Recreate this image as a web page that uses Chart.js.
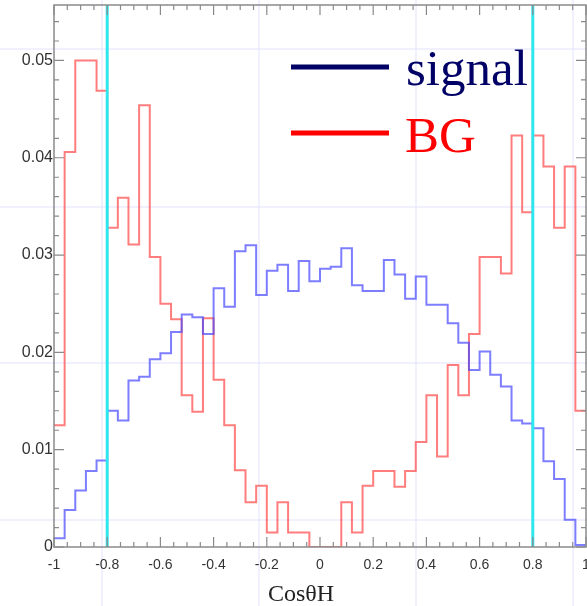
<!DOCTYPE html>
<html>
<head>
<meta charset="utf-8">
<script src="https://cdn.jsdelivr.net/npm/chart.js@4.4.0/dist/chart.umd.min.js"></script>
<style>
  body { margin: 0; background: #fff; }
  #chart { display: block; }
</style>
</head>
<body>
<canvas id="chart" width="587" height="606"></canvas>
<script>
// Bin edges of the CosθH histogram (50 bins from -1 to 1)
const binEdges = [
  -1, -0.96, -0.92, -0.88, -0.84, -0.8, -0.76, -0.72, -0.68, -0.64,
  -0.6, -0.56, -0.52, -0.48, -0.44, -0.4, -0.36, -0.32, -0.28, -0.24,
  -0.2, -0.16, -0.12, -0.08, -0.04, 0, 0.04, 0.08, 0.12, 0.16,
  0.2, 0.24, 0.28, 0.32, 0.36, 0.4, 0.44, 0.48, 0.52, 0.56,
  0.6, 0.64, 0.68, 0.72, 0.76, 0.8, 0.84, 0.88, 0.92, 0.96, 1
];

// Normalised bin contents
const signal = [
  0.0009, 0.0038, 0.0058, 0.0078, 0.0089, 0.0140, 0.0130, 0.0171, 0.0175, 0.0193,
  0.0199, 0.0221, 0.0239, 0.0236, 0.0219, 0.0266, 0.0247, 0.0304, 0.0310, 0.0259,
  0.0284, 0.0290, 0.0263, 0.0294, 0.0273, 0.0286, 0.0288, 0.0307, 0.0269, 0.0263,
  0.0263, 0.0295, 0.0280, 0.0255, 0.0278, 0.0249, 0.0249, 0.0230, 0.0210, 0.0182,
  0.0201, 0.0177, 0.0165, 0.0130, 0.0127, 0.0122, 0.0088, 0.0070, 0.0028, 0.0002
];
const background = [
  0.0125, 0.0406, 0.0500, 0.0500, 0.0469, 0.0328, 0.0359, 0.0311, 0.0454, 0.0298,
  0.0250, 0.0234, 0.0156, 0.0139, 0.0235, 0.0172, 0.0125, 0.0079, 0.0046, 0.0063,
  0.0015, 0.0046, 0.0015, 0.0015, 0, 0, 0, 0.0046, 0.0015, 0.0063,
  0.0078, 0.0078, 0.0062, 0.0078, 0.0108, 0.0156, 0.0093, 0.0187, 0.0156, 0.0219,
  0.0298, 0.0298, 0.0281, 0.0423, 0.0344, 0.0423, 0.0391, 0.0328, 0.0391, 0.0140
];

// Cut positions and axis ticks
const cuts = [-0.8, 0.8];
const xTicks = [-1, -0.8, -0.6, -0.4, -0.2, 0, 0.2, 0.4, 0.6, 0.8, 1];
const yTicks = [0, 0.01, 0.02, 0.03, 0.04, 0.05];
const yMax = 0.0557;

// Turn bin contents into step points (last edge repeats last value)
function toSteps(values) {
  const pts = values.map((v, i) => ({ x: binEdges[i], y: v }));
  pts.push({ x: binEdges[binEdges.length - 1], y: values[values.length - 1] });
  return pts;
}

const cutSets = cuts.map(c => ({
  data: [{ x: c, y: 0 }, { x: c, y: yMax }],
  borderColor: '#2ee6f0',
  borderWidth: 3,
  pointRadius: 0
}));

// Slide-style background grid, frame, inner ticks, legend, axis title
const decorations = {
  id: 'decorations',
  beforeDraw(chart) {
    const ctx = chart.ctx;
    ctx.save();
    ctx.fillStyle = '#fff';
    ctx.fillRect(0, 0, chart.width, chart.height);
    ctx.strokeStyle = 'rgba(222,222,255,0.45)';
    ctx.lineWidth = 2;
    [102, 259, 416, 573].forEach(x => {
      ctx.beginPath(); ctx.moveTo(x, 0); ctx.lineTo(x, chart.height); ctx.stroke();
    });
    [49, 207, 363, 520].forEach(y => {
      ctx.beginPath(); ctx.moveTo(0, y); ctx.lineTo(chart.width, y); ctx.stroke();
    });
    ctx.restore();
  },
  afterDatasetsDraw(chart) {
    const { ctx, chartArea: a, scales: { x, y } } = chart;
    ctx.save();
    ctx.strokeStyle = '#8a8a8a';
    ctx.lineWidth = 1.5;
    ctx.strokeRect(a.left, a.top, a.right - a.left, a.bottom - a.top);

    ctx.lineWidth = 1.2;
    ctx.beginPath();
    // x ticks: major every 0.2, minor every 0.05
    for (let i = 0; i <= 40; i++) {
      const v = -1 + i * 0.05;
      const px = x.getPixelForValue(v);
      const len = i % 4 === 0 ? 10 : 5;
      ctx.moveTo(px, a.bottom); ctx.lineTo(px, a.bottom - len);
      ctx.moveTo(px, a.top); ctx.lineTo(px, a.top + len);
    }
    // y ticks: major every 0.01, minor every 0.002
    for (let i = 0; i * 0.002 <= yMax; i++) {
      const py = y.getPixelForValue(i * 0.002);
      const len = i % 5 === 0 ? 10 : 5;
      ctx.moveTo(a.left, py); ctx.lineTo(a.left + len, py);
      ctx.moveTo(a.right, py); ctx.lineTo(a.right - len, py);
    }
    ctx.stroke();

    // legend
    ctx.lineWidth = 5;
    ctx.strokeStyle = '#000066';
    ctx.beginPath(); ctx.moveTo(291, 67); ctx.lineTo(389, 67); ctx.stroke();
    ctx.strokeStyle = '#ff0000';
    ctx.beginPath(); ctx.moveTo(291, 133); ctx.lineTo(389, 133); ctx.stroke();
    ctx.font = '51px "Liberation Serif", "Times New Roman", serif';
    ctx.textBaseline = 'alphabetic';
    ctx.textAlign = 'left';
    ctx.fillStyle = '#000066';
    ctx.fillText('signal', 406, 85);
    ctx.fillStyle = '#ff0000';
    ctx.fillText('BG', 405, 152);

    // axis title
    ctx.font = '24px "Liberation Serif", "Times New Roman", serif';
    ctx.fillStyle = '#222';
    ctx.textAlign = 'center';
    ctx.fillText('CosθH', 301, 601);
    ctx.restore();
  }
};

new Chart(document.getElementById('chart'), {
  type: 'line',
  data: {
    datasets: [
      ...cutSets,
      {
        label: 'signal',
        data: toSteps(signal),
        stepped: 'before',
        borderColor: 'rgba(70,70,255,0.7)',
        borderWidth: 2,
        pointRadius: 0
      },
      {
        label: 'BG',
        data: toSteps(background),
        stepped: 'before',
        borderColor: 'rgba(255,70,70,0.7)',
        borderWidth: 2,
        pointRadius: 0
      }
    ]
  },
  options: {
    responsive: false,
    animation: false,
    layout: { padding: { top: 5, right: 1, left: 0, bottom: 0 } },
    plugins: { legend: { display: false }, tooltip: { enabled: false } },
    scales: {
      x: {
        type: 'linear',
        min: -1,
        max: 1,
        afterBuildTicks: s => { s.ticks = xTicks.map(v => ({ value: v })); },
        afterFit: s => { s.height = 59; s.paddingLeft = 0; s.paddingRight = 0; },
        ticks: {
          autoSkip: false,
          maxRotation: 0,
          padding: 10,
          color: '#333',
          font: { family: '"Liberation Sans", Arial, sans-serif', size: 14 },
          callback: v => String(Math.round(v * 10) / 10)
        },
        grid: { display: false, drawTicks: false },
        border: { display: false }
      },
      y: {
        min: 0,
        max: yMax,
        afterBuildTicks: s => { s.ticks = yTicks.map(v => ({ value: v })); },
        afterFit: s => { s.width = 54; s.paddingTop = 0; s.paddingBottom = 0; },
        ticks: {
          padding: 1,
          color: '#333',
          font: { family: '"Liberation Sans", Arial, sans-serif', size: 16 },
          callback: v => v === 0 ? '0' : v.toFixed(2)
        },
        grid: { display: false, drawTicks: false },
        border: { display: false }
      }
    }
  },
  plugins: [decorations]
});
</script>
</body>
</html>
